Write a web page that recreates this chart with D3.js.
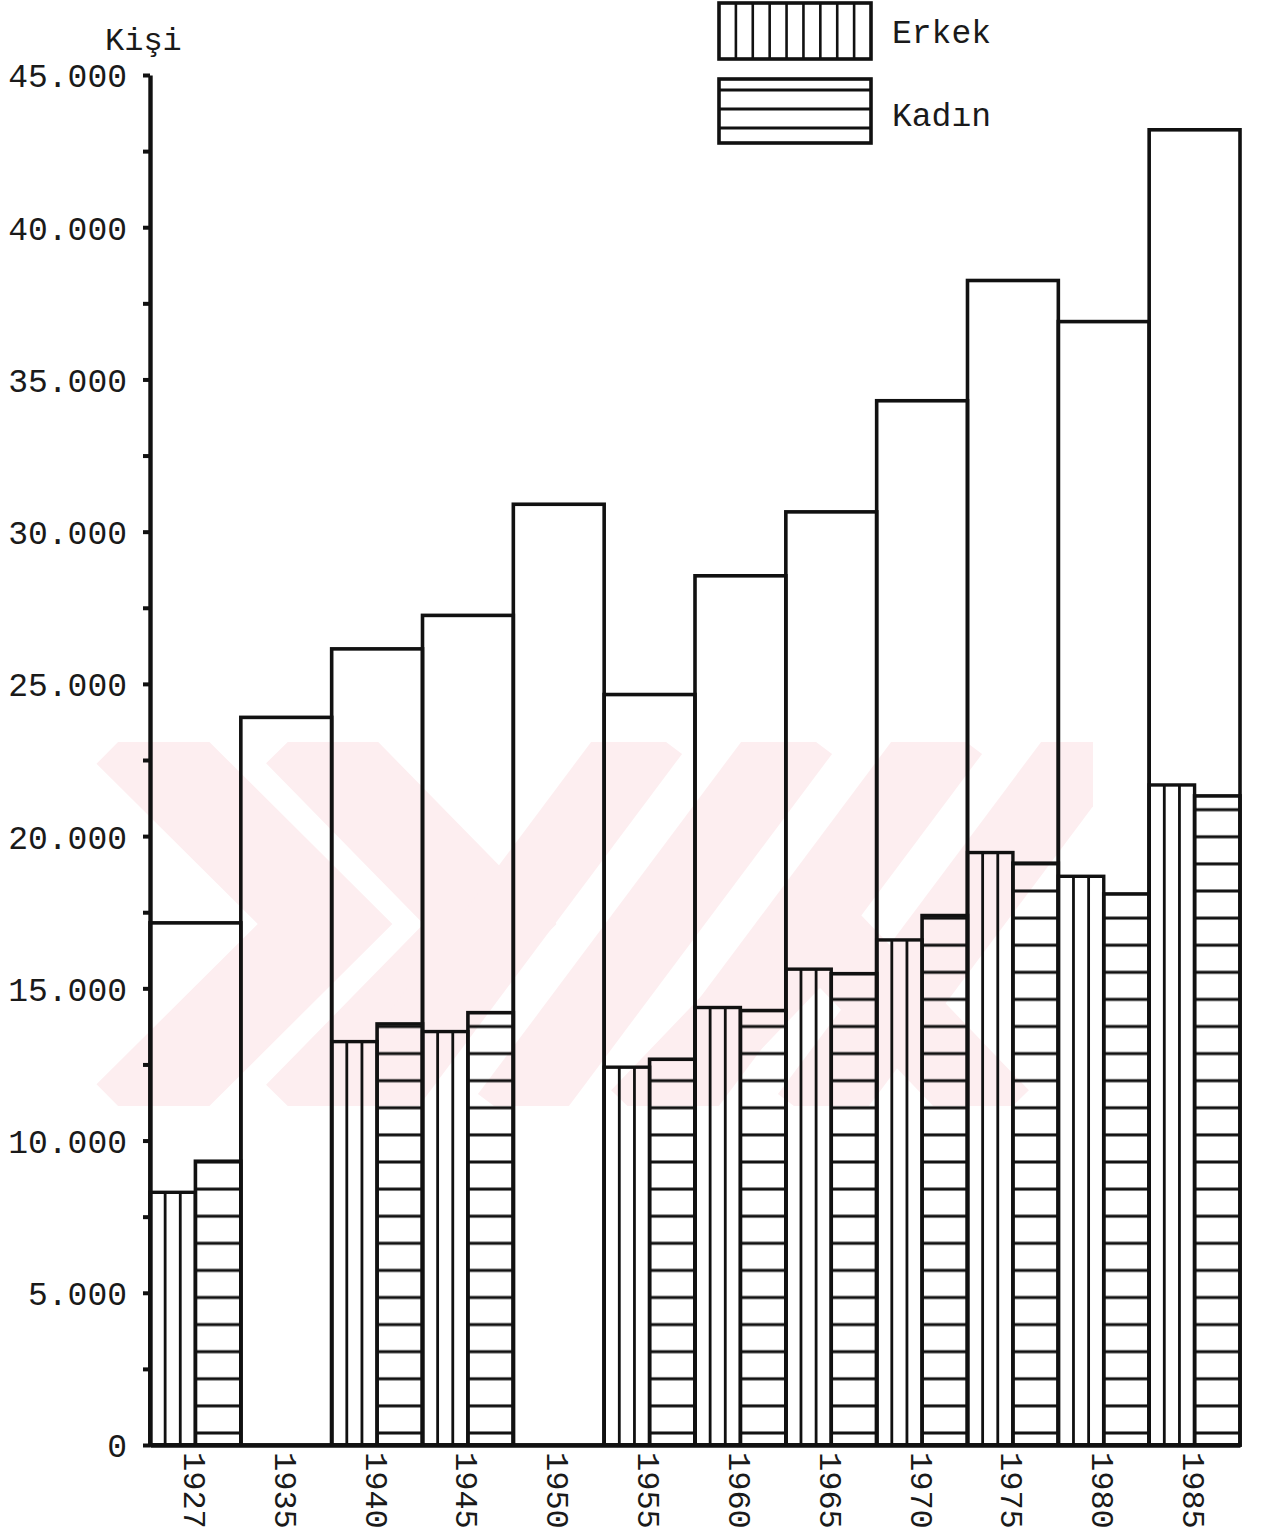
<!DOCTYPE html>
<html>
<head>
<meta charset="utf-8">
<script src="https://cdn.jsdelivr.net/npm/d3@7"></script>
<style>
  html, body { margin: 0; padding: 0; background: #fff; }
  svg { display: block; }
  text { font-family: "Liberation Mono", "DejaVu Sans Mono", monospace; fill: #1a1a1a; }
</style>
</head>
<body>
<svg id="chart" width="1262" height="1536"></svg>
<script>
// ---- data ----
const years  = ["1927","1935","1940","1945","1950","1955","1960","1965","1970","1975","1980","1985"];
const totals = [17150, 23900, 26150, 27250, 30900, 24650, 28550, 30650, 34300, 38250, 36900, 43200];
const erkek  = [8300, null, 13250, 13580, null, 12410, 14370, 15630, 16590, 19460, 18680, 21680];
const kadin  = [9320, null, 13830, 14200, null, 12670, 14270, 15480, 17390, 19110, 18100, 21320];
const seriesNames = ["Erkek", "Kadın"];
const yTicks = d3.range(0, 45001, 2500);

const svg = d3.select("#chart");

const y = d3.scaleLinear().domain([0, 45000]).range([1445, 75]);
const x = d3.scaleBand().domain(years).range([150, 1240]).padding(0);
const sub = d3.scaleBand().domain(seriesNames).range([0, x.bandwidth()]).padding(0);

const loc = d3.formatLocale({decimal: ",", thousands: ".", grouping: [3], currency: ["", ""]});
const fmt = loc.format(",d");

const ink = "#111";
const defs = svg.append("defs");

// ---- watermark (faint pink logo from scan) ----
const wm = svg.append("g").attr("class", "watermark");
defs.append("clipPath").attr("id", "wmclip").append("rect")
  .attr("x", 88).attr("y", 742).attr("width", 1005).attr("height", 364);
const wmg = wm.append("g").attr("clip-path", "url(#wmclip)")
  .attr("fill", "none").attr("stroke", "#fdeef0").attr("stroke-linejoin", "miter");
const wmPaths = [
  "M130,730 L325,924 L130,1118",
  "M300,730 L490,924 L300,1118",
  "M650,730 L360,1118",
  "M800,730 L510,1118",
  "M950,730 L660,1118",
  "M1100,730 L810,1118",
  "M640,1118 L820,930 L1000,1118"
];
wmPaths.forEach((d, i) => wmg.append("path").attr("d", d).attr("stroke-width", i < 2 ? 95 : 80));

// ---- horizontal hatch pattern ----
const hatchStep = 27.1;
const pat = defs.append("pattern").attr("id", "hatchH")
  .attr("patternUnits", "userSpaceOnUse")
  .attr("x", 0).attr("y", (y(0) - 12 - hatchStep / 2) % hatchStep)
  .attr("width", 20).attr("height", hatchStep);
pat.append("line").attr("x1", 0).attr("x2", 20)
  .attr("y1", hatchStep / 2).attr("y2", hatchStep / 2)
  .attr("stroke", ink).attr("stroke-width", 3);

// ---- total bars (outline) ----
const data = years.map((yr, i) => ({year: yr, total: totals[i], erkek: erkek[i], kadin: kadin[i]}));

svg.append("g").selectAll("rect.total")
  .data(data).join("rect")
  .attr("class", "total")
  .attr("x", d => x(d.year))
  .attr("y", d => y(d.total))
  .attr("width", x.bandwidth())
  .attr("height", d => y(0) - y(d.total))
  .attr("fill", "none").attr("stroke", ink).attr("stroke-width", 3.6);

// ---- Erkek / Kadın bars ----
const split = data.filter(d => d.erkek != null);
const gB = svg.append("g");

// Kadın (horizontal hatch)
gB.selectAll("rect.kadin").data(split).join("rect")
  .attr("class", "kadin")
  .attr("x", d => x(d.year) + sub("Kadın"))
  .attr("y", d => y(d.kadin))
  .attr("width", sub.bandwidth())
  .attr("height", d => y(0) - y(d.kadin))
  .attr("fill", "url(#hatchH)").attr("stroke", ink).attr("stroke-width", 3.6);

// Erkek (vertical hatch)
gB.selectAll("rect.erkek").data(split).join("rect")
  .attr("class", "erkek")
  .attr("x", d => x(d.year) + sub("Erkek"))
  .attr("y", d => y(d.erkek))
  .attr("width", sub.bandwidth())
  .attr("height", d => y(0) - y(d.erkek))
  .attr("fill", "none").attr("stroke", ink).attr("stroke-width", 3.4);

gB.selectAll("g.ev").data(split).join("g").attr("class", "ev")
  .each(function(d) {
    const x0 = x(d.year) + sub("Erkek"), w = sub.bandwidth();
    [1/3, 2/3].forEach(f => {
      d3.select(this).append("line")
        .attr("x1", x0 + w * f).attr("x2", x0 + w * f)
        .attr("y1", y(d.erkek)).attr("y2", y(0))
        .attr("stroke", ink).attr("stroke-width", 2.8);
    });
  });

// ---- Y axis ----
const yAxis = d3.axisLeft(y)
  .tickValues(yTicks)
  .tickSize(7).tickSizeOuter(0).tickPadding(16)
  .tickFormat(v => v % 5000 === 0 ? fmt(v) : "");
const gy = svg.append("g").attr("transform", "translate(150,0)").call(yAxis);
gy.select(".domain").attr("stroke", ink).attr("stroke-width", 4.4);
gy.selectAll(".tick line").attr("stroke", ink).attr("stroke-width", 4);
gy.selectAll(".tick text")
  .attr("font-family", "Liberation Mono, DejaVu Sans Mono, monospace")
  .attr("font-size", 33).attr("fill", "#1a1a1a").attr("dy", "0.36em");

// ---- X axis ----
const xAxis = d3.axisBottom(x).tickSize(0).tickSizeOuter(0);
const gx = svg.append("g").attr("transform", `translate(0,${y(0)})`).call(xAxis);
gx.select(".domain").attr("stroke", ink).attr("stroke-width", 4.4);
gx.selectAll(".tick text")
  .attr("font-family", "Liberation Mono, DejaVu Sans Mono, monospace")
  .attr("font-size", 32).attr("fill", "#1a1a1a")
  .attr("text-anchor", "start")
  .attr("transform", "rotate(90)")
  .attr("x", 7).attr("y", 0).attr("dy", "0.36em");

// ---- axis title ----
svg.append("text").attr("x", 105).attr("y", 50)
  .attr("font-size", 32).text("Kişi");

// ---- legend ----
const lg = svg.append("g");
const boxX = 719, boxW = 152;
const legendItems = [
  {name: seriesNames[0], y0: 3, h: 56, ty: 43},
  {name: seriesNames[1], y0: 79, h: 64, ty: 126}
];
lg.append("rect").attr("x", boxX).attr("y", legendItems[0].y0).attr("width", boxW).attr("height", legendItems[0].h)
  .attr("fill", "none").attr("stroke", ink).attr("stroke-width", 3.6);
d3.range(1, 9).forEach(k => {
  const xx = boxX + k * boxW / 9;
  lg.append("line").attr("x1", xx).attr("x2", xx)
    .attr("y1", legendItems[0].y0).attr("y2", legendItems[0].y0 + legendItems[0].h)
    .attr("stroke", ink).attr("stroke-width", 2.6);
});
lg.append("rect").attr("x", boxX).attr("y", legendItems[1].y0).attr("width", boxW).attr("height", legendItems[1].h)
  .attr("fill", "none").attr("stroke", ink).attr("stroke-width", 3.6);
[11, 30, 49].forEach(off => {
  lg.append("line").attr("x1", boxX).attr("x2", boxX + boxW)
    .attr("y1", legendItems[1].y0 + off).attr("y2", legendItems[1].y0 + off)
    .attr("stroke", ink).attr("stroke-width", 2.8);
});
lg.selectAll("text.lt").data(legendItems).join("text").attr("class", "lt")
  .attr("x", 892).attr("y", d => d.ty).attr("font-size", 33).text(d => d.name);
</script>
</body>
</html>
